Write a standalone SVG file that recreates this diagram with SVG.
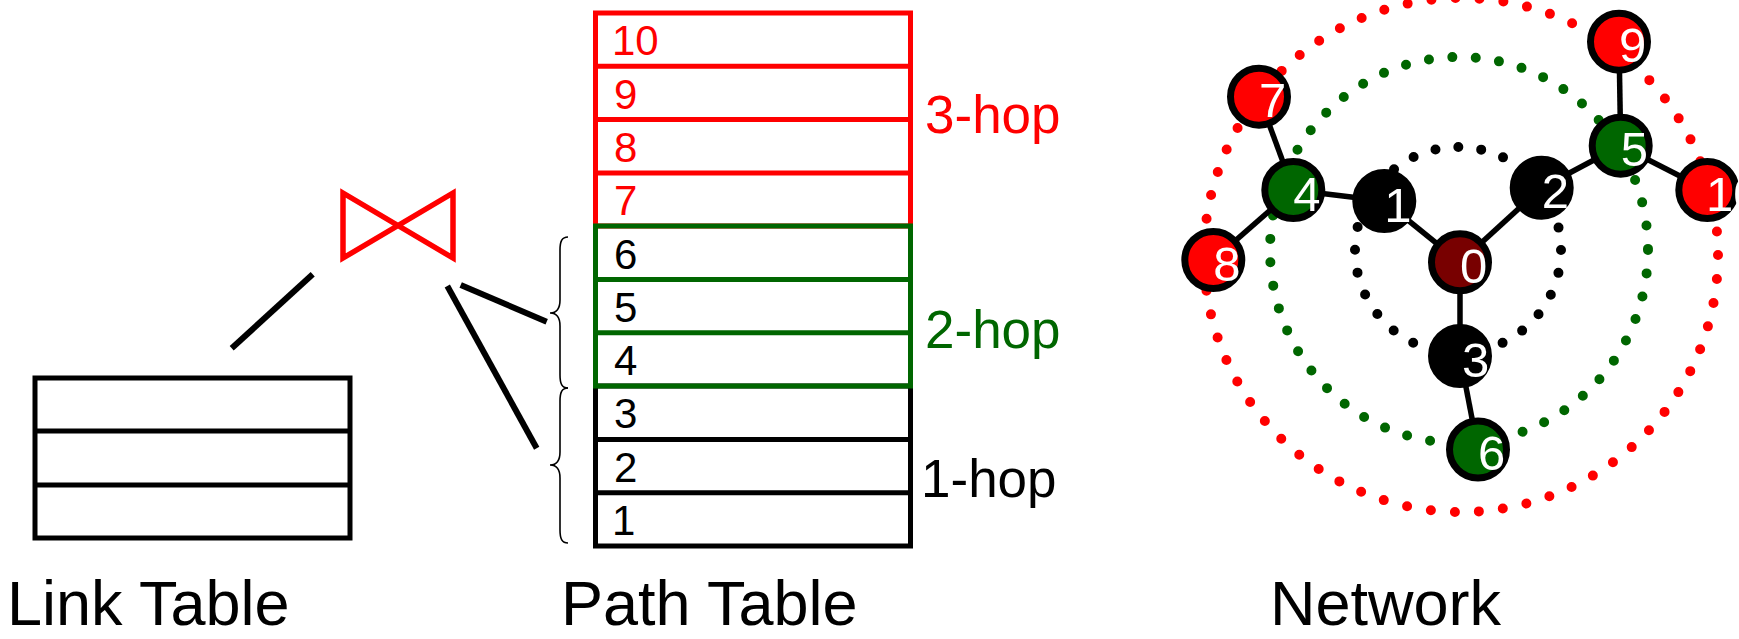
<svg xmlns="http://www.w3.org/2000/svg" width="1739" height="639" viewBox="0 0 1739 639">
<style>
text { font-family: "Liberation Sans", Arial, sans-serif; }
.cap { font-size: 63px; fill: #000; }
.tbl { fill: none; stroke-width: 5; }
.num { font-size: 42px; }
.hop { font-size: 53px; }
.red { fill: #ff0000; }
.grn { fill: #006600; }
.blk { fill: #000; }
.conn { stroke: #000; stroke-width: 6; }
.brace { fill: none; stroke: #000; stroke-width: 1.6; }
.edge { stroke: #000; stroke-width: 5.5; }
.node circle { stroke: #000; stroke-width: 7; }
.node text { font-size: 49px; fill: #fff; }
.dots { fill: none; stroke-width: 10; stroke-linecap: round; }
</style>
<rect width="1739" height="639" fill="#fff"/>

<!-- Link table -->
<g id="link-table" class="tbl" stroke="#000">
  <rect x="35" y="378" width="315" height="160"/>
  <line x1="35" y1="431" x2="350" y2="431"/>
  <line x1="35" y1="485" x2="350" y2="485"/>
</g>
<text id="label-link" class="cap" x="7" y="625">Link Table</text>

<!-- Join symbol -->
<g id="join">
  <polygon points="343,193 453,258 453,193 343,258" fill="none" stroke="#ff0000" stroke-width="5.5" stroke-miterlimit="10"/>
</g>

<!-- Path table -->
<g id="path-table">
  <g id="hop3" class="tbl" stroke="#ff0000">
    <rect x="595.5" y="13" width="315" height="213"/>
    <line x1="595.5" y1="66.3" x2="910.5" y2="66.3"/>
    <line x1="595.5" y1="119.6" x2="910.5" y2="119.6"/>
    <line x1="595.5" y1="172.9" x2="910.5" y2="172.9"/>
  </g>
  <g id="hop1" class="tbl" stroke="#000">
    <rect x="595.5" y="386" width="315" height="160"/>
    <line x1="595.5" y1="439.4" x2="910.5" y2="439.4"/>
    <line x1="595.5" y1="492.7" x2="910.5" y2="492.7"/>
  </g>
  <g id="hop2" class="tbl" stroke="#006600">
    <rect x="595.5" y="226" width="315" height="160"/>
    <line x1="595.5" y1="279.5" x2="910.5" y2="279.5"/>
    <line x1="595.5" y1="332.8" x2="910.5" y2="332.8"/>
  </g>
  <g id="row-numbers" class="num">
    <text class="red" x="612" y="55">10</text>
    <text class="red" x="614" y="108.5">9</text>
    <text class="red" x="614" y="162">8</text>
    <text class="red" x="614" y="215">7</text>
    <text class="blk" x="614" y="268.5">6</text>
    <text class="blk" x="614" y="322">5</text>
    <text class="blk" x="614" y="375">4</text>
    <text class="blk" x="614" y="428">3</text>
    <text class="blk" x="614" y="481.5">2</text>
    <text class="blk" x="612" y="535">1</text>
  </g>
  <text class="hop red" x="925" y="133">3-hop</text>
  <text class="hop grn" x="925" y="348">2-hop</text>
  <text class="hop blk" x="921" y="497">1-hop</text>
  <g id="braces" class="brace">
    <path d="M568,237 C562,237 560,241 560,250 L560,300 C560,309 556,313 550,313 C556,313 560,317 560,326 L560,375 C560,384 562,388 568,388"/>
    <path d="M568,388 C562,388 560,392 560,401 L560,452 C560,461 556,465 550,465 C556,465 560,469 560,478 L560,530 C560,539 562,543 568,543"/>
  </g>
</g>
<text id="label-path" class="cap" x="561" y="625">Path Table</text>

<!-- Hop rings -->
<g id="hop-rings">
  <circle class="dots" cx="1461" cy="255" r="257" stroke="#ff0000" stroke-dasharray="0 24.1"/>
  <ellipse class="dots" cx="1459" cy="250" rx="189" ry="193" stroke="#006600" stroke-dasharray="0 23.5"/>
  <circle class="dots" cx="1458" cy="250" r="103" stroke="#000" stroke-dasharray="0 23.1"/>
</g>

<!-- Connectors -->
<g id="connectors">
  <line class="conn" x1="231.7" y1="348.3" x2="312.7" y2="274.3"/>
  <line class="conn" x1="460.7" y1="285" x2="546.7" y2="321.7"/>
  <line class="conn" x1="447.3" y1="286" x2="536.7" y2="448.3"/>
  <g class="edge">
    <line x1="1259" y1="96.7" x2="1293.3" y2="190"/>
    <line x1="1213.3" y1="260" x2="1293.3" y2="190"/>
    <line x1="1293.3" y1="190" x2="1384.3" y2="201"/>
    <line x1="1384.3" y1="201" x2="1460" y2="262.3"/>
    <line x1="1460" y1="262.3" x2="1541.7" y2="187.7"/>
    <line x1="1541.7" y1="187.7" x2="1620.7" y2="145.7"/>
    <line x1="1620.7" y1="145.7" x2="1619" y2="41.7"/>
    <line x1="1620.7" y1="145.7" x2="1707.3" y2="190"/>
    <line x1="1460" y1="262.3" x2="1460" y2="356"/>
    <line x1="1460" y1="356" x2="1478" y2="449.5"/>
  </g>
</g>

<!-- Network nodes -->
<g id="n0" class="node"><circle cx="1460" cy="262.3" r="28.5" fill="#780000"/><text x="1460" y="283">0</text></g>
<g id="n1" class="node"><circle cx="1384.3" cy="201" r="28.5" fill="#000"/><text x="1384.3" y="221.5">1</text></g>
<g id="n2" class="node"><circle cx="1541.7" cy="187.7" r="28.5" fill="#000"/><text x="1541.7" y="208.2">2</text></g>
<g id="n3" class="node"><circle cx="1460" cy="356" r="28.5" fill="#000"/><text x="1462" y="376.5">3</text></g>
<g id="n4" class="node"><circle cx="1293.3" cy="190" r="28.5" fill="#006600"/><text x="1293.3" y="210.5">4</text></g>
<g id="n5" class="node"><circle cx="1620.7" cy="145.7" r="28.5" fill="#006600"/><text x="1620.7" y="166.2">5</text></g>
<g id="n6" class="node"><circle cx="1478" cy="449.5" r="28.5" fill="#006600"/><text x="1478" y="470">6</text></g>
<g id="n7" class="node"><circle cx="1259" cy="96.7" r="28.5" fill="#ff0000"/><text x="1259" y="117.2">7</text></g>
<g id="n8" class="node"><circle cx="1213.3" cy="260" r="28.5" fill="#ff0000"/><text x="1213.3" y="280.5">8</text></g>
<g id="n9" class="node"><circle cx="1619" cy="41.7" r="28.5" fill="#ff0000"/><text x="1619" y="62.2">9</text></g>
<g id="n10" class="node"><circle cx="1707.3" cy="190" r="28.5" fill="#ff0000"/><text x="1706" y="210.5">10</text></g>
<text id="label-network" class="cap" x="1270" y="625">Network</text>
</svg>
